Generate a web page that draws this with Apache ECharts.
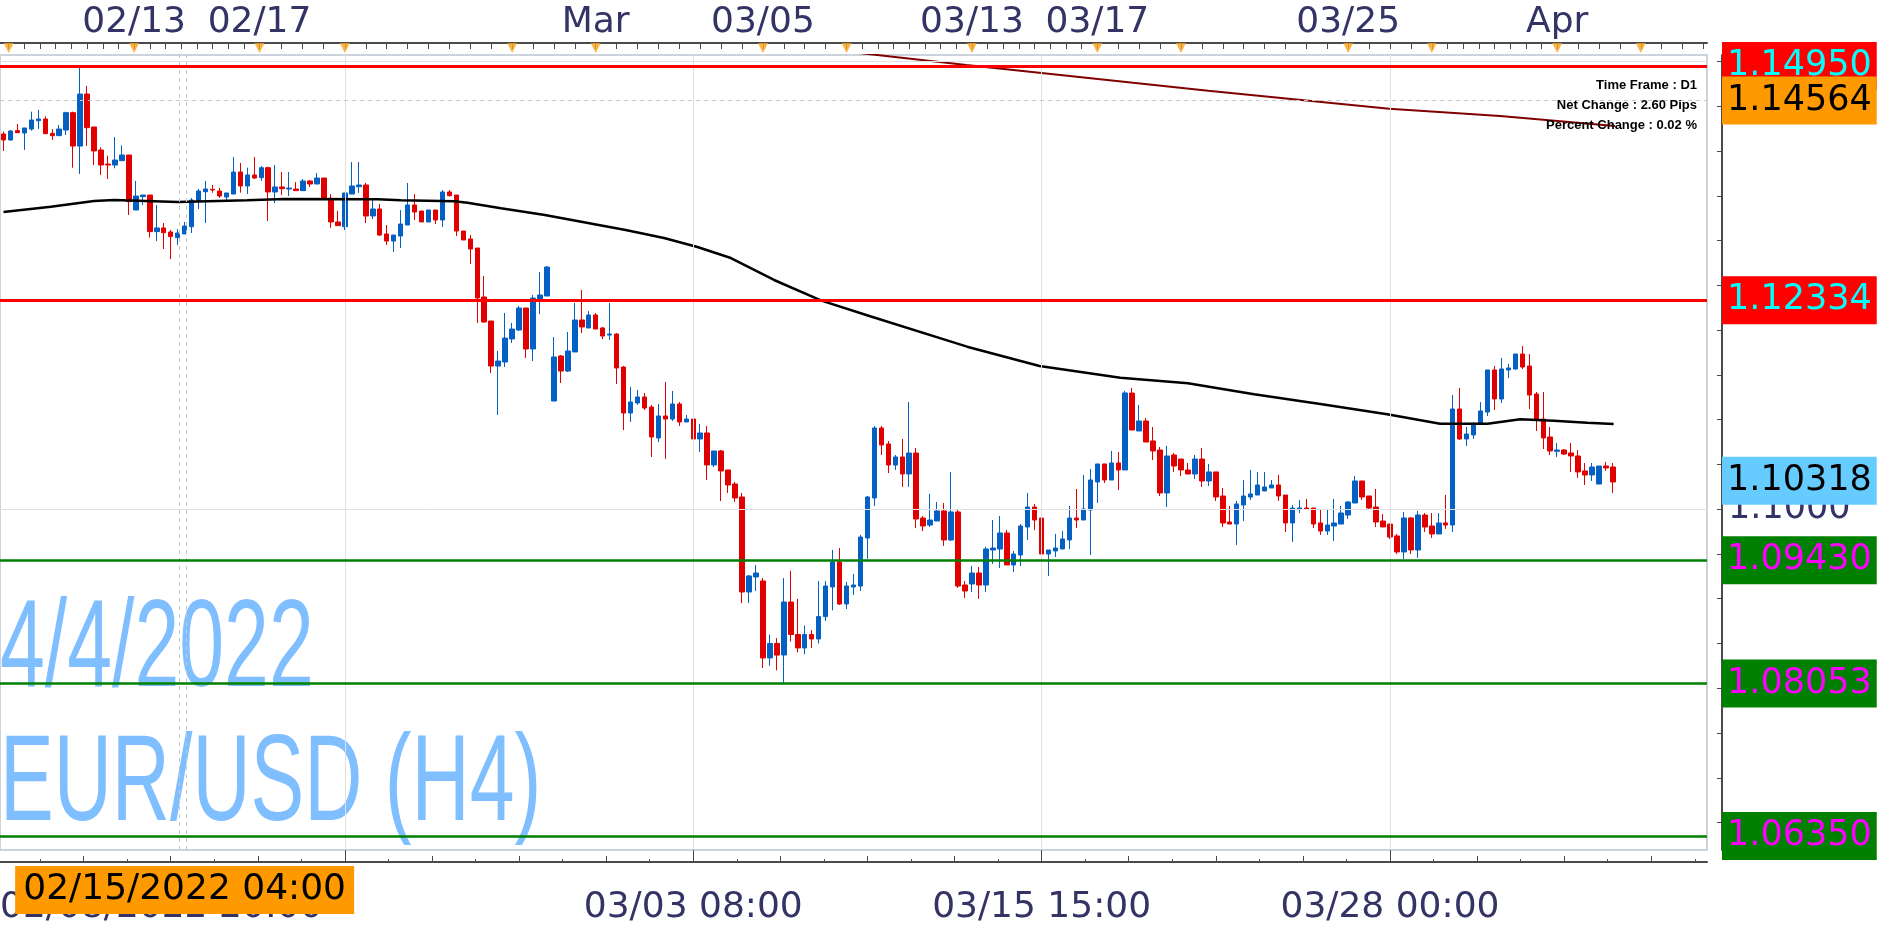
<!DOCTYPE html>
<html><head><meta charset="utf-8">
<script src="https://cdn.jsdelivr.net/npm/echarts@6/dist/echarts.min.js"></script>
<style>html,body{margin:0;padding:0;background:#fff;}#c{width:1894px;height:929px;}</style>
</head><body><div id="c"></div>
<script>
// ---------------- DATA ----------------
const opens = [1.14191,1.14124,1.14228,1.14202,1.14246,1.14339,1.14358,1.14198,1.14172,1.14235,
1.14429,1.14056,1.14637,1.14269,1.14012,1.13855,1.13844,1.13893,1.13956,1.13342,
1.13491,1.13509,1.13100,1.13141,1.13096,1.13033,1.13074,1.13155,1.13446,1.13546,
1.13572,1.13554,1.13487,1.13520,1.13766,1.13610,1.13733,1.13703,1.13814,1.13543,
1.13599,1.13576,1.13576,1.13558,1.13666,1.13632,1.13699,1.13472,1.13208,1.13155,
1.13520,1.13602,1.13621,1.13275,1.13353,1.13074,1.12995,1.13051,1.13174,1.13398,
1.13330,1.13208,1.13342,1.13230,1.13543,1.13509,1.13107,1.13018,1.12917,1.12370,
1.12102,1.11599,1.11644,1.11901,1.12001,1.12247,1.11789,1.12347,1.12381,1.11208,
1.11711,1.11543,1.11756,1.12113,1.12024,1.12169,1.12024,1.11945,1.11956,1.11588,
1.11074,1.11186,1.11253,1.11141,1.10795,1.11041,1.11007,1.11175,1.10974,1.11007,
1.10784,1.10851,1.10494,1.10650,1.10438,1.10281,1.10136,1.09075,1.09243,1.09198,
1.08338,1.08500,1.08371,1.08963,1.08600,1.08450,1.08600,1.08550,1.08800,1.09131,
1.09410,1.08941,1.09131,1.09142,1.09678,1.10125,1.10907,1.10728,1.10493,1.10583,
1.10393,1.10627,1.09901,1.09823,1.09868,1.09980,1.09656,1.09969,1.09153,1.09164,
1.09287,1.09153,1.09544,1.09555,1.09734,1.09377,1.09488,1.09801,1.10024,1.09901,
1.09499,1.09533,1.09555,1.09656,1.09901,1.09879,1.09991,1.10304,1.10505,1.10326,
1.10516,1.10438,1.11297,1.10873,1.10985,1.10762,1.10661,1.10181,1.10605,1.10560,
1.10438,1.10393,1.10560,1.10315,1.10416,1.10147,1.09857,1.09834,1.10047,1.10136,
1.10158,1.10203,1.10237,1.10270,1.10158,1.09846,1.10002,1.10013,1.10013,1.09846,
1.09756,1.09812,1.09834,1.09935,1.10069,1.10315,1.10147,1.10024,1.09868,1.09834,
1.09701,1.09522,1.09902,1.09544,1.09935,1.09812,1.09723,1.09846,1.09823,1.11119,
1.10784,1.10829,1.10951,1.11085,1.11555,1.11231,1.11555,1.11566,1.11733,1.11599,
1.11286,1.11007,1.10806,1.10646,1.10661,1.10628,1.10594,1.10427,1.10382,1.10281,
1.10482,1.10471];
const highs = [1.14217,1.14235,1.14302,1.14258,1.14440,1.14459,1.14388,1.14246,1.14291,1.14440,
1.14440,1.14931,1.14727,1.14269,1.14042,1.13949,1.14157,1.14064,1.13956,1.13666,
1.13509,1.13509,1.13398,1.13196,1.13118,1.13129,1.13208,1.13476,1.13576,1.13666,
1.13621,1.13587,1.13532,1.13934,1.13867,1.13814,1.13934,1.13833,1.13826,1.13844,
1.13766,1.13766,1.13654,1.13688,1.13677,1.13755,1.13699,1.13520,1.13330,1.13532,
1.13878,1.13878,1.13643,1.13464,1.13409,1.13174,1.13062,1.13342,1.13643,1.13520,
1.13330,1.13342,1.13342,1.13565,1.13565,1.13509,1.13107,1.13062,1.12917,1.12605,
1.12102,1.11767,1.12191,1.12080,1.12269,1.12247,1.12392,1.12649,1.12716,1.11923,
1.11722,1.11979,1.12303,1.12448,1.12213,1.12191,1.12035,1.12303,1.11968,1.11599,
1.11365,1.11331,1.11298,1.11164,1.11175,1.11420,1.11320,1.11197,1.11052,1.11041,
1.10952,1.10929,1.10650,1.10661,1.10438,1.10304,1.10181,1.09265,1.09377,1.09231,
1.08600,1.08560,1.09231,1.09310,1.08997,1.08700,1.08650,1.09198,1.09198,1.09544,
1.09566,1.09187,1.09276,1.09712,1.10147,1.10929,1.10929,1.10761,1.10605,1.10784,
1.11197,1.10683,1.09924,1.10170,1.10080,1.10069,1.10415,1.09991,1.09198,1.09365,
1.09354,1.09578,1.09879,1.09924,1.09767,1.09533,1.09834,1.10181,1.10058,1.09980,
1.09544,1.09723,1.09756,1.10036,1.10225,1.10382,1.10449,1.10505,1.10505,1.10650,
1.10639,1.11320,1.11354,1.11164,1.11018,1.10918,1.10695,1.10706,1.10628,1.10560,
1.10516,1.10605,1.10683,1.10505,1.10416,1.10237,1.10036,1.10091,1.10326,1.10438,
1.10416,1.10416,1.10326,1.10382,1.10158,1.10047,1.10103,1.10114,1.10013,1.09991,
1.09991,1.10114,1.10036,1.10091,1.10371,1.10315,1.10147,1.10225,1.09946,1.09834,
1.09723,1.09969,1.09913,1.09980,1.09957,1.09957,1.09957,1.10158,1.11275,1.11354,
1.10918,1.10974,1.11197,1.11555,1.11599,1.11689,1.11622,1.11733,1.11823,1.11733,
1.11309,1.11309,1.10918,1.10739,1.10672,1.10739,1.10661,1.10516,1.10516,1.10482,
1.10527,1.10516];
const lows = [1.14001,1.14116,1.14205,1.14012,1.14228,1.14246,1.14194,1.14124,1.14172,1.14179,
1.13814,1.13744,1.14056,1.13844,1.13733,1.13688,1.13807,1.13893,1.13286,1.13342,
1.13398,1.13033,1.12995,1.12906,1.12794,1.12951,1.13074,1.13085,1.13353,1.13196,
1.13535,1.13476,1.13453,1.13520,1.13535,1.13520,1.13688,1.13666,1.13219,1.13420,
1.13509,1.13498,1.13558,1.13558,1.13599,1.13632,1.13472,1.13141,1.13167,1.13118,
1.13520,1.13532,1.13196,1.13241,1.13051,1.12951,1.12873,1.12917,1.13174,1.13230,
1.13208,1.13208,1.13185,1.13152,1.13491,1.13051,1.13007,1.12739,1.12080,1.12080,
1.11521,1.11052,1.11588,1.11856,1.11990,1.11689,1.11655,1.12180,1.12381,1.11208,
1.11409,1.11532,1.11756,1.11968,1.12024,1.12012,1.11901,1.11890,1.11398,1.10884,
1.10974,1.11164,1.11108,1.10583,1.10750,1.10561,1.10985,1.10929,1.10974,1.10706,
1.10639,1.10326,1.10471,1.10091,1.10181,1.10080,1.08950,1.08952,1.09086,1.08226,
1.08250,1.08200,1.08058,1.08520,1.08400,1.08380,1.08450,1.08500,1.08750,1.08870,
1.08930,1.08885,1.09042,1.09086,1.09445,1.10036,1.10605,1.10404,1.10438,1.10248,
1.10248,1.09790,1.09756,1.09801,1.09868,1.09589,1.09645,1.09120,1.09008,1.09075,
1.08997,1.09075,1.09388,1.09343,1.09377,1.09298,1.09365,1.09656,1.09767,1.09377,
1.09254,1.09466,1.09555,1.09555,1.09790,1.09879,1.09488,1.10069,1.10292,1.10326,
1.10214,1.10438,1.10884,1.10873,1.10750,1.10549,1.10147,1.10024,1.10416,1.10371,
1.10393,1.10337,1.10248,1.10259,1.10091,1.09801,1.09834,1.09600,1.09868,1.10103,
1.10158,1.10203,1.10237,1.10091,1.09745,1.09634,1.09957,1.10002,1.09790,1.09712,
1.09712,1.09645,1.09834,1.09890,1.10069,1.10103,1.10002,1.09801,1.09801,1.09667,
1.09500,1.09444,1.09500,1.09455,1.09745,1.09678,1.09723,1.09779,1.09745,1.10773,
1.10706,1.10784,1.10951,1.11041,1.11108,1.11186,1.11465,1.11555,1.11566,1.11119,
1.10873,1.10672,1.10605,1.10583,1.10605,1.10416,1.10348,1.10270,1.10315,1.10281,
1.10427,1.10181];
const closes = [1.14124,1.14224,1.14205,1.14258,1.14347,1.14358,1.14194,1.14172,1.14246,1.14429,
1.14056,1.14637,1.14261,1.14001,1.13844,1.13844,1.13900,1.13956,1.13435,1.13498,
1.13509,1.13100,1.13141,1.13088,1.13044,1.13085,1.13163,1.13453,1.13554,1.13576,
1.13565,1.13498,1.13532,1.13766,1.13610,1.13733,1.13699,1.13814,1.13543,1.13599,
1.13580,1.13587,1.13558,1.13666,1.13632,1.13699,1.13472,1.13208,1.13167,1.13532,
1.13610,1.13621,1.13275,1.13353,1.13062,1.12995,1.13062,1.13185,1.13398,1.13319,
1.13208,1.13342,1.13230,1.13543,1.13502,1.13107,1.13007,1.12906,1.12359,1.12091,
1.11599,1.11655,1.11911,1.12012,1.12247,1.11789,1.12358,1.12392,1.12705,1.11700,
1.11543,1.11767,1.12113,1.12035,1.12169,1.12012,1.11934,1.11956,1.11577,1.11074,
1.11197,1.11253,1.11130,1.10806,1.11041,1.11007,1.11175,1.10974,1.11007,1.10784,
1.10851,1.10494,1.10650,1.10427,1.10270,1.10125,1.09075,1.09254,1.09287,1.08338,
1.08500,1.08370,1.08963,1.08600,1.08450,1.08600,1.08550,1.08800,1.09142,1.09410,
1.08941,1.09142,1.09153,1.09689,1.10136,1.10907,1.10717,1.10493,1.10583,1.10393,
1.10627,1.09890,1.09812,1.09879,1.09980,1.09656,1.09969,1.09142,1.09086,1.09287,
1.09153,1.09555,1.09566,1.09734,1.09377,1.09499,1.09812,1.10024,1.09879,1.09499,
1.09544,1.09566,1.09667,1.09901,1.09879,1.10002,1.10326,1.10505,1.10326,1.10516,
1.10438,1.11298,1.10884,1.10985,1.10750,1.10650,1.10181,1.10594,1.10482,1.10438,
1.10393,1.10560,1.10315,1.10416,1.10136,1.09846,1.09834,1.10058,1.10147,1.10170,
1.10270,1.10248,1.10270,1.10147,1.09846,1.10013,1.10013,1.10002,1.09834,1.09756,
1.09823,1.09846,1.09957,1.10080,1.10315,1.10136,1.10013,1.09857,1.09801,1.09689,
1.09522,1.09902,1.09544,1.09935,1.09801,1.09723,1.09846,1.09823,1.11119,1.10784,
1.10840,1.10940,1.11097,1.11555,1.11231,1.11566,1.11577,1.11733,1.11588,1.11275,
1.11007,1.10795,1.10650,1.10661,1.10616,1.10594,1.10416,1.10382,1.10471,1.10482,
1.10460,1.10304];
const emptyBarsAtRight = 13;

// moving averages: [bar index, price]
const maPoints = [[0,1.13319],[6.8,1.13378],[13,1.13442],[15.9,1.13453],[25,1.13431],[35,1.13450],
[40.3,1.13464],[53.7,1.13461],[57,1.13450],[64.7,1.13439],[66.6,1.13423],[71.4,1.13361],
[77.7,1.13286],[89.3,1.13118],[94.8,1.13029],[99.6,1.12928],[104.4,1.12805],[110.6,1.12560],
[117.4,1.12330],[124.5,1.12152],[138.3,1.11815],[148.7,1.11599],[160.3,1.11469],[170,1.11406],
[179.5,1.11283],[189,1.11175],[198.6,1.11060],[206.2,1.10955],[213,1.10955],[217.7,1.11004],
[222.5,1.10988],[227.3,1.10966],[231.1,1.10951]];
const dailyMaPoints = [[120,1.15120],[138.2,1.14961],[172.9,1.14675],[198.9,1.14473],[214.8,1.14392],[231.3,1.14280]];

const resistanceLevels = [1.14950, 1.12334];
const supportLevels = [1.09430, 1.08053, 1.06350];
const crosshairPrice = 1.14564;
const lastPrice = 1.10318;
const crosshairBar = 26;
const crosshairTime = '02/15/2022 04:00';
const dashedVerticalBars = [25.2, 26.2];
const gridBars = [49, 99, 149, 199];
const gridPrices = [1.15, 1.10];

const bottomLabelBars = [99, 149, 199];
const bottomLabels = ['03/03 08:00', '03/15 15:00', '03/28 00:00'];
const firstBottomLabel = '02/08/2022 20:00';
const topMarkerBars = [0.75, 18.75, 36.75, 49, 73, 85, 109, 121, 139, 157, 169, 193, 205, 223, 235];
const topLabelBars = [18.75, 36.75, 85, 109, 139, 157, 193, 223];
const topLabels = ['02/13', '02/17', 'Mar', '03/05', '03/13', '03/17', '03/25', 'Apr'];
const priceTicks = [1.065,1.070,1.075,1.080,1.085,1.090,1.095,1.100,1.105,1.110,1.115,1.120,1.125,1.130,1.135,1.140,1.145,1.150];
const priceLabelValues = [1.10];
const infoLines = ['Time Frame : D1', 'Net Change : 2.60 Pips', 'Percent Change : 0.02 %'];
const watermarkDate = '4/4/2022';
const watermarkSymbol = 'EUR/USD (H4)';

// ---------------- CHART ----------------
const yMin = 1.06193, yMax = 1.15073;
const nBars = opens.length + emptyBarsAtRight;
const xMin = -0.5, xMax = nBars - 0.5;
const categories = Array.from({length: nBars}, (_, i) => String(i));
const candleData = opens.map((o, i) => [o, closes[i], lows[i], highs[i]]);

const FONT = 'DejaVu Sans';
const AXIS_COLOR = '#4a4a4a';
const LABEL_COLOR = '#333366';
const BULL = '#0560c4', BEAR = '#e00000';

// bottom tick marks every 6.25 bars, longer every 2nd, major every 8th
const shortTicks = [], mediumTicks = [], majorTicks = [];
for (let n = -16; n <= 24; n++) {
  const v = 99 + n * 6.25;
  if (v < xMin || v > xMax) continue;
  if (n % 8 === 0) majorTicks.push(v); else if (n % 2 === 0) mediumTicks.push(v); else shortTicks.push(v);
}
// top ticks: subdivide each marker segment
const topTicks = [];
for (let i = 0; i < topMarkerBars.length - 1; i++) {
  const a = topMarkerBars[i], b = topMarkerBars[i + 1];
  const parts = (b - a) >= 18 ? 8 : 4;
  for (let j = 0; j < parts; j++) topTicks.push(a + (b - a) * j / parts);
}
for (let v = topMarkerBars[topMarkerBars.length - 1]; v <= xMax; v += 3) topTicks.push(v);

function nearest(arr, v) { let bi = 0; arr.forEach((a, i) => { if (Math.abs(a - v) < Math.abs(arr[bi] - v)) bi = i; }); return bi; }

const gridRect = {left: -1, right: 187, top: 55, bottom: 79};

function levelItem(value, color, width, bg, fg, type) {
  return {
    yAxis: value,
    lineStyle: {color: color, width: width, type: type || 'solid'},
    label: {show: true, position: 'end', distance: 15, formatter: value.toFixed(5),
      backgroundColor: bg, color: fg, fontSize: 35, fontFamily: FONT, lineHeight: 36, padding: [6, 5, 6, 5]}
  };
}

const option = {
  animation: false,
  backgroundColor: '#ffffff',
  grid: [
    Object.assign({show: true, borderColor: '#cbd3dc', borderWidth: 2, backgroundColor: 'transparent'}, gridRect),
    Object.assign({}, gridRect),
    Object.assign({}, gridRect)
  ],
  xAxis: [
    {type: 'category', gridIndex: 0, position: 'top', data: categories, boundaryGap: true, show: false},
    {type: 'value', gridIndex: 0, position: 'bottom', offset: 12, min: xMin, max: xMax,
      axisLine: {show: true, onZero: false, lineStyle: {color: AXIS_COLOR, width: 2}},
      axisTick: {show: true, inside: true, length: 3, customValues: shortTicks, lineStyle: {color: AXIS_COLOR}},
      axisLabel: {show: false}, splitLine: {show: false}},
    {type: 'value', gridIndex: 1, position: 'bottom', offset: 12, min: xMin, max: xMax,
      axisLine: {show: false, onZero: false},
      axisTick: {show: true, inside: true, length: 6, customValues: mediumTicks, lineStyle: {color: AXIS_COLOR}},
      axisLabel: {show: false}, splitLine: {show: false}},
    {type: 'value', gridIndex: 1, position: 'top', offset: 12, min: xMin, max: xMax,
      axisLine: {show: true, onZero: false, lineStyle: {color: AXIS_COLOR, width: 2}},
      axisTick: {show: true, inside: true, length: 6, customValues: topTicks, lineStyle: {color: AXIS_COLOR}},
      axisLabel: {show: true, customValues: topLabelBars, formatter: v => topLabels[nearest(topLabelBars, v)],
        color: LABEL_COLOR, fontSize: 36, fontFamily: FONT, margin: 2},
      splitLine: {show: false}},
    {type: 'value', gridIndex: 2, position: 'bottom', offset: 12, min: xMin, max: xMax,
      axisLine: {show: false, onZero: false},
      axisTick: {show: true, inside: true, length: 12, customValues: majorTicks, lineStyle: {color: AXIS_COLOR}},
      axisLabel: {show: true, customValues: bottomLabelBars, formatter: v => bottomLabels[nearest(bottomLabelBars, v)],
        color: LABEL_COLOR, fontSize: 36, fontFamily: FONT, margin: 28},
      splitLine: {show: false}}
  ],
  yAxis: [
    {type: 'value', gridIndex: 0, position: 'right', offset: 15, min: yMin, max: yMax,
      axisLine: {show: true, onZero: false, lineStyle: {color: AXIS_COLOR, width: 2}},
      axisTick: {show: true, inside: true, length: 5, customValues: priceTicks, lineStyle: {color: AXIS_COLOR}},
      axisLabel: {show: true, customValues: priceLabelValues, formatter: v => v.toFixed(4),
        color: LABEL_COLOR, fontSize: 35, fontFamily: FONT, margin: 6},
      splitLine: {show: false}},
    {type: 'value', gridIndex: 1, min: yMin, max: yMax, show: false, axisLine: {onZero: false}},
    {type: 'value', gridIndex: 2, min: yMin, max: yMax, show: false, axisLine: {onZero: false}}
  ],
  series: [
    { // grid lines and crosshair verticals
      type: 'line', xAxisIndex: 1, yAxisIndex: 0, data: [], z: 1, silent: true,
      markLine: {silent: true, symbol: ['none', 'none'], label: {show: false}, animation: false, precision: 5,
        data: [].concat(
          gridBars.map(k => ({xAxis: k, lineStyle: {color: '#e0e0e0', width: 1, type: 'solid'}})),
          gridPrices.map(p => ({yAxis: p, lineStyle: {color: '#e0e0e0', width: 1, type: 'solid'}})),
          dashedVerticalBars.map(k => ({xAxis: k, lineStyle: {color: '#c8c8c8', width: 1, type: [4, 4]}}))
        )}
    },
    {
      type: 'candlestick', xAxisIndex: 0, yAxisIndex: 0, data: candleData, barWidth: 5, z: 2,
      itemStyle: {color: BULL, color0: BEAR, borderColor: BULL, borderColor0: BEAR, borderWidth: 1}
    },
    {
      type: 'line', xAxisIndex: 1, yAxisIndex: 0, data: maPoints, showSymbol: false, symbol: 'none', z: 3,
      lineStyle: {color: '#000000', width: 2.5}, silent: true
    },
    {
      type: 'line', xAxisIndex: 1, yAxisIndex: 0, data: dailyMaPoints, showSymbol: false, symbol: 'none', z: 3,
      lineStyle: {color: '#800000', width: 2}, silent: true
    },
    { // horizontal levels with price boxes
      type: 'line', xAxisIndex: 1, yAxisIndex: 0, data: [], z: 4, silent: true,
      markLine: {silent: true, symbol: ['none', 'none'], animation: false, precision: 5,
        data: [].concat(
          resistanceLevels.map(v => levelItem(v, '#ff0000', 3, '#ff0000', '#00ffff')),
          [levelItem(crosshairPrice, '#c8c8c8', 1, '#ff9900', '#000000', [4, 4])],
          supportLevels.map(v => levelItem(v, '#008000', 2.5, '#008000', '#ff00ff')),
          [levelItem(lastPrice, 'rgba(0,0,0,0)', 1, '#66ccff', '#000000')]
        )}
    },
    { // day markers on the top scale
      type: 'scatter', xAxisIndex: 3, yAxisIndex: 1, data: topMarkerBars.map(k => [k, yMax]),
      symbol: 'triangle', symbolRotate: 180, symbolSize: [10, 10], symbolOffset: [0, -7],
      itemStyle: {color: '#f7a21b'}, clip: false, silent: true, z: 5
    }
  ]
};

const chart = echarts.init(document.getElementById('c'));
chart.setOption(option);

const cx = chart.convertToPixel({xAxisIndex: 1}, crosshairBar);
chart.setOption({
  graphic: [
    {type: 'text', x: 0, y: 652, scaleX: 0.65, z: 0, silent: true,
      style: {text: watermarkDate, font: '124px "Liberation Sans"', fill: '#80bfff', textAlign: 'left', textVerticalAlign: 'middle'}},
    {type: 'text', x: 0, y: 786, scaleX: 0.66, z: 0, silent: true,
      style: {text: watermarkSymbol, font: '122px "Liberation Sans"', fill: '#80bfff', textAlign: 'left', textVerticalAlign: 'middle'}},
    {type: 'text', x: 1697, y: 85, z: 10, silent: true,
      style: {text: infoLines[0], font: 'bold 13px "Liberation Sans"', fill: '#000', textAlign: 'right', textVerticalAlign: 'middle'}},
    {type: 'text', x: 1697, y: 105, z: 10, silent: true,
      style: {text: infoLines[1], font: 'bold 13px "Liberation Sans"', fill: '#000', textAlign: 'right', textVerticalAlign: 'middle'}},
    {type: 'text', x: 1697, y: 125, z: 10, silent: true,
      style: {text: infoLines[2], font: 'bold 13px "Liberation Sans"', fill: '#000', textAlign: 'right', textVerticalAlign: 'middle'}},
    {type: 'text', x: 0, y: 908, z: 10, silent: true,
      style: {text: firstBottomLabel, font: '36px "DejaVu Sans"', fill: LABEL_COLOR, textAlign: 'left', textVerticalAlign: 'middle'}},
    {type: 'rect', z: 11, silent: true, shape: {x: cx - 169.5, y: 866, width: 339, height: 48}, style: {fill: '#ff9900'}},
    {type: 'text', x: cx, y: 890, z: 12, silent: true,
      style: {text: crosshairTime, font: '36px "DejaVu Sans"', fill: '#000', textAlign: 'center', textVerticalAlign: 'middle'}}
  ]
});
</script>
</body></html>
